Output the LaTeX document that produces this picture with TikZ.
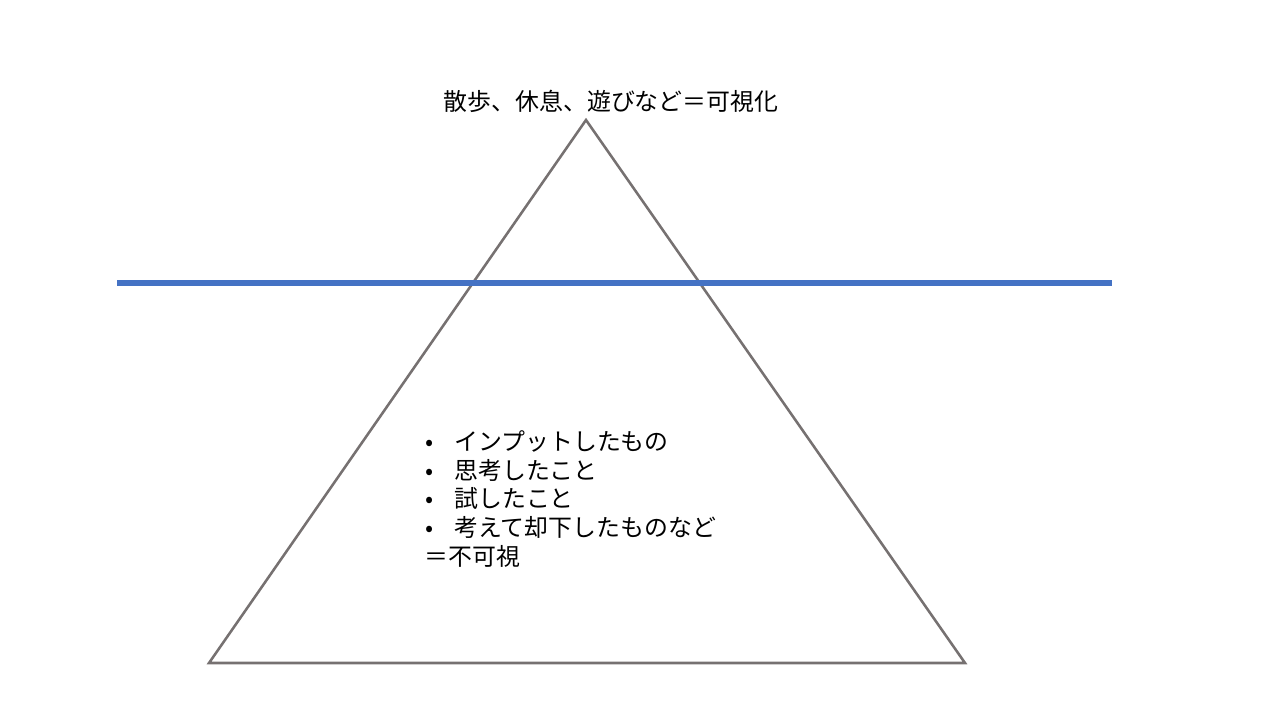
\documentclass[tikz,border=0pt]{standalone}
\usepackage{fontspec}
\setmainfont{Noto Sans CJK JP}
\usetikzlibrary{positioning}
\definecolor{waterblue}{HTML}{4472C4}
\definecolor{rimgray}{HTML}{767171}

\tikzset{
  jptext/.style={font=\fontsize{13.6}{16.44}\selectfont, inner sep=0pt},
  rim/.style={draw=rimgray, line width=1.45pt, line join=miter},
  water/.style={draw=waterblue, line width=2.9pt}
}
\newcommand{\dotitem}{\makebox[0.6cm][l]{\hspace{0.02cm}•}}

\begin{document}
\begin{tikzpicture}[x=0.02cm,y=-0.02cm]
  \useasboundingbox (0,0) rectangle (1280,720);
  % iceberg
  \coordinate (top) at (586,120);
  \coordinate (baseL) at (209,663);
  \coordinate (baseR) at (965,663);
  \draw[rim] (top) -- (baseR) -- (baseL) -- cycle;
  % surface
  \coordinate (seaL) at (117,283);
  \coordinate (seaR) at (1112,283);
  \draw[water] (seaL) -- (seaR);
  % labels
  \node[jptext] (visible) at (611,101) {散歩、休息、遊びなど＝可視化};
  \node[jptext, align=left, anchor=north west] (hidden) at (424,430)
    {\dotitem インプットしたもの\\
     \dotitem 思考したこと\\
     \dotitem 試したこと\\
     \dotitem 考えて却下したものなど\\
     ＝不可視};
\end{tikzpicture}
\end{document}
